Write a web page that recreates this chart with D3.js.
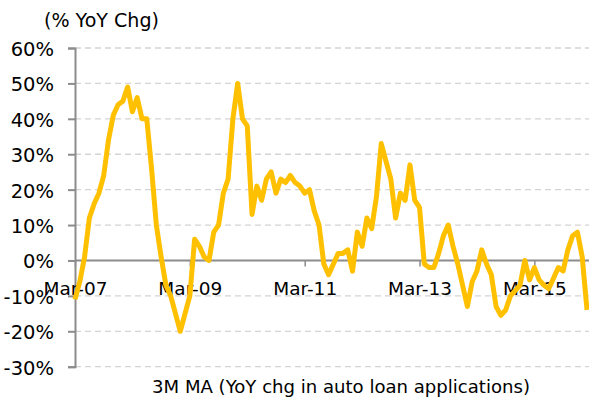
<!DOCTYPE html>
<html>
<head>
<meta charset="utf-8">
<script src="https://cdn.jsdelivr.net/npm/d3@7"></script>
<style>
  html, body { margin: 0; padding: 0; background: #fff; }
  svg { display: block; }
  text { font-family: "DejaVu Sans", sans-serif; fill: #000; }
</style>
</head>
<body>
<svg id="chart" width="589" height="405"></svg>
<script>
// ---- DATA ----
const startMonth = "2007-03";   // first category (Mar-07)
const values = [
  -11, -6, 1, 12, 16, 19, 24, 34, 41, 44, 45, 49, 42, 46, 40, 40,
  26, 10, 1, -7, -10, -15, -20, -15, -10, 6, 4, 1, 0, 8, 10, 19,
  23, 40, 50, 40, 38, 13, 21, 17, 23, 25, 19, 23, 22, 24, 22, 21,
  19, 20, 14, 10, -1, -4, -1, 2, 2, 3, -3, 8, 4, 12, 9, 18,
  33, 28, 23, 12, 19, 17, 27, 17, 15, -1, -2, -2, 2, 7, 10, 4,
  -1, -7, -13, -6, -3, 3, -1, -4, -13, -15.5, -14, -10, -8.5, -7, 0, -5.5,
  -2, -5.5, -7, -8, -5, -2, -3, 3, 7, 8, 1, -14
];
const yTicks = [60, 50, 40, 30, 20, 10, 0, -10, -20, -30];
const xTickLabels = ["Mar-07", "Mar-09", "Mar-11", "Mar-13", "Mar-15"];
const yTitle = "(% YoY Chg)";
const seriesLabel = "3M MA (YoY chg in auto loan applications)";

// ---- BUILD CATEGORIES ----
const fmt = d3.timeFormat("%b-%y");
const start = d3.timeParse("%Y-%m")(startMonth);
const categories = values.map((v, i) => fmt(d3.timeMonth.offset(start, i)));
const data = values.map((v, i) => ({ cat: categories[i], v }));

// ---- LAYOUT ----
const svg = d3.select("#chart");
const pLeft = 75, pRight = 587, pTop = 48, pBottom = 366.7;

const x = d3.scalePoint().domain(categories).range([pLeft, pRight]);
const y = d3.scaleLinear().domain([-30, 60]).range([pBottom, pTop]);

const ff = "'DejaVu Sans', sans-serif";
const ffy = "Roboto, 'Noto Sans', sans-serif";

// size a font so that a sample string has the wanted width
function fitSize(sample, family, targetWidth) {
  const t = svg.append("text").attr("font-family", family).attr("font-size", 20).text(sample);
  const w = t.node().getComputedTextLength();
  t.remove();
  const s = 20 * targetWidth / w;
  return Math.max(14, Math.min(22, s));
}
const ySize = 19.5;
const xSize = fitSize("Mar-07", ff, 64);
const titleSize = fitSize(yTitle, ff, 115);
const labelSize = fitSize(seriesLabel, ff, 378);

// gridlines
svg.append("g").selectAll("line")
  .data(yTicks.filter(d => d !== 0))
  .join("line")
  .attr("x1", pLeft).attr("x2", 589)
  .attr("y1", d => y(d)).attr("y2", d => y(d))
  .attr("stroke", "#d4d4d4").attr("stroke-width", 1.3)
  .attr("stroke-dasharray", "6,4");

// y axis
const yAxis = d3.axisLeft(y)
  .tickValues(yTicks)
  .tickFormat(d => d + "%")
  .tickSize(7)
  .tickPadding(14);
const gy = svg.append("g").attr("transform", `translate(${pLeft},0)`).call(yAxis);
gy.select(".domain").attr("stroke", "#8c8c8c").attr("stroke-width", 2);
gy.selectAll(".tick line").attr("stroke", "#8c8c8c").attr("stroke-width", 2);
gy.selectAll(".tick text").attr("font-size", ySize).attr("fill", "#000")
  .attr("font-family", ffy).attr("dy", "0.38em");

// x axis at zero line
const xAxis = d3.axisBottom(x)
  .tickValues(xTickLabels)
  .tickSize(6)
  .tickPadding(15)
  .tickSizeOuter(0);
const gx = svg.append("g").attr("transform", `translate(0,${y(0)})`).call(xAxis);
gx.select(".domain").attr("d", `M${pLeft},0H589`).attr("stroke", "#8c8c8c").attr("stroke-width", 2);
gx.selectAll(".tick line").attr("stroke", "#8c8c8c").attr("stroke-width", 1.5);
gx.selectAll(".tick text").attr("font-size", xSize).attr("fill", "#000").attr("font-family", ff);

// line
const line = d3.line().x(d => x(d.cat)).y(d => y(d.v));
svg.append("path").datum(data)
  .attr("fill", "none")
  .attr("stroke", "#FFC000")
  .attr("stroke-width", 5)
  .attr("stroke-linejoin", "round")
  .attr("d", line);

// titles
svg.append("text").attr("x", 44).attr("y", 27)
  .attr("font-size", titleSize).attr("font-family", ff).text(yTitle);
svg.append("text").attr("x", 341).attr("y", 393)
  .attr("text-anchor", "middle")
  .attr("font-size", labelSize).attr("font-family", ff).text(seriesLabel);
</script>
</body>
</html>
